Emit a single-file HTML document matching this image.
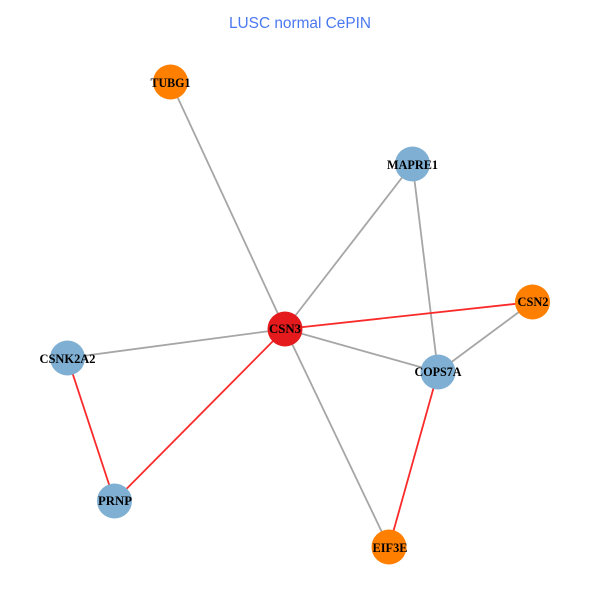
<!DOCTYPE html>
<html>
<head>
<meta charset="utf-8">
<style>
html,body{margin:0;padding:0;background:#fff;width:600px;height:600px;overflow:hidden}
svg{display:block}
.n{font-family:"Liberation Serif",serif;font-size:12.5px;font-weight:bold;fill:#000;text-anchor:middle}
.t{font-family:"Liberation Sans",sans-serif;font-size:15.5px;fill:#4a78f0;text-anchor:middle}
</style>
</head>
<body>
<svg width="600" height="600" viewBox="0 0 600 600" xmlns="http://www.w3.org/2000/svg">
<rect width="600" height="600" fill="#fff"/>
<text class="t" x="300" y="28" textLength="142" lengthAdjust="spacingAndGlyphs">LUSC normal CePIN</text>
<g stroke="#a6a6a6" stroke-width="1.8" fill="none">
<line x1="170.5" y1="82" x2="285" y2="329"/>
<line x1="412.5" y1="164" x2="285" y2="329"/>
<line x1="412.5" y1="164" x2="438" y2="372"/>
<line x1="67.5" y1="358" x2="285" y2="329"/>
<line x1="285" y1="329" x2="438" y2="372"/>
<line x1="285" y1="329" x2="389" y2="547"/>
<line x1="532.5" y1="302" x2="438" y2="372"/>
</g>
<g stroke="#fb2a2a" stroke-width="1.8" fill="none">
<line x1="285" y1="329" x2="532.5" y2="302"/>
<line x1="285" y1="329" x2="114.5" y2="501"/>
<line x1="67.5" y1="358" x2="114.5" y2="501"/>
<line x1="438" y1="372" x2="389" y2="547"/>
</g>
<g>
<circle cx="170.5" cy="82" r="17.5" fill="#ff7f00"/>
<circle cx="412.5" cy="164" r="17.5" fill="#7fafd3"/>
<circle cx="532.5" cy="302" r="17.5" fill="#ff7f00"/>
<circle cx="285" cy="329" r="17.5" fill="#e41a1c"/>
<circle cx="67.5" cy="358" r="17.5" fill="#7fafd3"/>
<circle cx="438" cy="372" r="17.5" fill="#7fafd3"/>
<circle cx="114.5" cy="501" r="17.5" fill="#7fafd3"/>
<circle cx="389" cy="547" r="17.5" fill="#ff7f00"/>
</g>
<text class="n" x="170.5" y="87" textLength="40" lengthAdjust="spacingAndGlyphs">TUBG1</text>
<text class="n" x="412.5" y="169" textLength="51" lengthAdjust="spacingAndGlyphs">MAPRE1</text>
<text class="n" x="533" y="306" textLength="31" lengthAdjust="spacingAndGlyphs">CSN2</text>
<text class="n" x="285" y="333" textLength="32" lengthAdjust="spacingAndGlyphs">CSN3</text>
<text class="n" x="67.5" y="363" textLength="56" lengthAdjust="spacingAndGlyphs">CSNK2A2</text>
<text class="n" x="438" y="376" textLength="47" lengthAdjust="spacingAndGlyphs">COPS7A</text>
<text class="n" x="115" y="505" textLength="34" lengthAdjust="spacingAndGlyphs">PRNP</text>
<text class="n" x="390" y="552" textLength="35" lengthAdjust="spacingAndGlyphs">EIF3E</text>
</svg>
</body>
</html>
